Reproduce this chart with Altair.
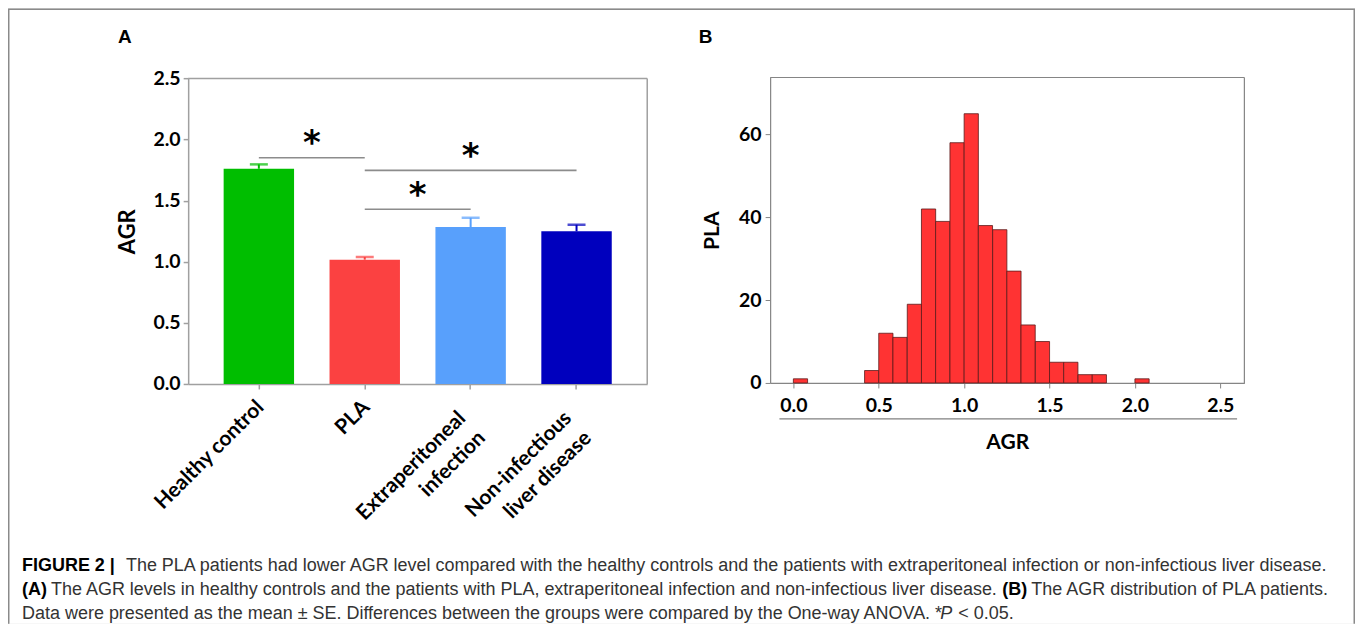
import altair as alt
import pandas as pd

# ---------------- data ----------------
groups = ["Healthy control", "PLA", "Extraperitoneal\ninfection", "Non-infectious\nliver disease"]
agr_mean = [1.761, 1.017, 1.284, 1.249]
agr_upper = [1.797, 1.039, 1.360, 1.303]
bar_colors = ["#00BE00", "#FB4141", "#58A0FC", "#0000BE"]

sig_from = ["Healthy control", "PLA", "PLA"]
sig_to = ["PLA", "Non-infectious\nliver disease", "Extraperitoneal\ninfection"]
sig_level = [1.851, 1.748, 1.430]
star_group = ["Healthy control", "Extraperitoneal\ninfection", "PLA"]
star_level = [2.036, 1.927, 1.613]
star_shift = [0.5, 0.0, 0.5]  # in category steps

bin_start = [0.000, 0.417, 0.500, 0.583, 0.667, 0.750, 0.833, 0.917, 1.000, 1.083,
             1.167, 1.250, 1.333, 1.417, 1.500, 1.583, 1.667, 1.750, 2.000]
bin_count = [1, 3, 12, 11, 19, 42, 39, 58, 65, 38, 37, 27, 14, 10, 5, 5, 2, 2, 1]
bin_width = 0.0833

yA_ticks = [0, 0.5, 1.0, 1.5, 2.0, 2.5]
xB_ticks = [0, 0.5, 1.0, 1.5, 2.0, 2.5]
yB_ticks = [0, 20, 40, 60]

cap1_bold = "FIGURE 2 |"
cap1 = "The PLA patients had lower AGR level compared with the healthy controls and the patients with extraperitoneal infection or non-infectious liver disease."
cap2a_bold = "(A)"
cap2a = "The AGR levels in healthy controls and the patients with PLA, extraperitoneal infection and non-infectious liver disease."
cap2b_bold = "(B)"
cap2b = "The AGR distribution of PLA patients."
cap3a = "Data were presented as the mean \u00b1 SE. Differences between the groups were compared by the One-way ANOVA. *"
cap3b = "P"
cap3c = "< 0.05."

# ---------------- layout ----------------
W, H = 1348, 616
A_X0, A_X1, A_Y0, A_Y1 = 180.3, 639.7, 70.3, 376.0
B_X0, B_X1, B_Y0, B_Y1 = 762.7, 1237.3, 69.3, 375.0
FONT = "Lato"
CAPFONT = "Liberation Sans"
CAPSIZE = 18
gray_a = "#a0a0a0"
gray_b = "#858585"
STEP_A = (A_X1 - A_X0) / (4 - 0.335 + 2 * 0.335)

one = pd.DataFrame({"d": [0]})

# ---------------- panel A ----------------
dfA = pd.DataFrame({"group": groups, "mean": agr_mean, "upper": agr_upper})
x_scale_A = alt.Scale(domain=groups, range=[A_X0, A_X1], paddingInner=0.335, paddingOuter=0.335)
y_scale_A = alt.Scale(domain=[0, 2.5], range=[A_Y1, A_Y0], nice=False)
color_A = alt.Color("group:N", scale=alt.Scale(domain=groups, range=bar_colors), legend=None)

multi_test = "indexof(datum.label, '\\n') >= 0"
axis_x_A = alt.Axis(orient="bottom", offset=A_Y1 - H, title=None, labelAngle=-45,
                    labelAlign="right", labelBaseline="top",
                    labelExpr="split(datum.label, '\\n')",
                    labelFont=FONT, labelFontWeight="bold", labelFontSize=21, labelColor="black",
                    labelPadding={"condition": {"test": multi_test, "value": 18}, "value": 7},
                    labelOffset={"condition": {"test": multi_test, "value": -16}, "value": -6},
                    labelLineHeight=28, labelOverlap=False, labelBound=False,
                    tickSize=5, tickColor=gray_a, tickWidth=1.5, domainColor=gray_a, domainWidth=1.5,
                    grid=False)
axis_y_A = alt.Axis(orient="left", offset=-A_X0, values=yA_ticks, format=".1f", title="AGR",
                    titleFont=FONT, titleFontSize=22, titleFontWeight="bold", titleColor="black",
                    titlePadding=13, labelFont=FONT, labelFontWeight="bold", labelFontSize=19.5,
                    labelColor="black", labelPadding=3, labelFlush=False, tickSize=5,
                    tickColor=gray_a, tickWidth=1.5, domainColor=gray_a, domainWidth=1.5, grid=False)

xA = alt.X("group:N", scale=x_scale_A, axis=axis_x_A, sort=groups, title=None)

bars = alt.Chart(dfA).mark_bar().encode(
    x=xA,
    y=alt.Y("mean:Q", scale=y_scale_A, axis=axis_y_A, title="AGR"),
    color=color_A,
)
errs = alt.Chart(dfA).mark_rule(strokeWidth=2).encode(
    x=xA,
    y=alt.Y("mean:Q", scale=y_scale_A, axis=axis_y_A, title="AGR"),
    y2="upper:Q",
    color=color_A,
)
caps = alt.Chart(dfA).mark_tick(thickness=2.5, size=18).encode(
    x=xA,
    y=alt.Y("upper:Q", scale=y_scale_A, axis=axis_y_A, title="AGR"),
    color=color_A,
)
dfSig = pd.DataFrame({"group": sig_from, "to": sig_to, "mean": sig_level})
sig = alt.Chart(dfSig).mark_rule(color="#8c8c8c", strokeWidth=1.6).encode(
    x=xA,
    x2="to:N",
    y=alt.Y("mean:Q", scale=y_scale_A, axis=axis_y_A, title="AGR"),
)
stars = []
for g, lv, sh in zip(star_group, star_level, star_shift):
    d = pd.DataFrame({"group": [g], "mean": [lv]})
    stars.append(
        alt.Chart(d).mark_text(text="*", font="DejaVu Sans", fontWeight="bold", fontSize=34,
                               color="black", baseline="middle", dx=sh * STEP_A, dy=9).encode(
            x=xA,
            y=alt.Y("mean:Q", scale=y_scale_A, axis=axis_y_A, title="AGR"),
        )
    )
panelA = alt.layer(bars, errs, caps, sig, *stars)

# ---------------- panel B ----------------
dfB = pd.DataFrame({"start": bin_start, "count": bin_count})
x_scale_B = alt.Scale(domain=[-0.136, 2.641], range=[B_X0, B_X1], nice=False, zero=False)
y_scale_B = alt.Scale(domain=[0, 73.75], range=[B_Y1, B_Y0], nice=False)
axis_x_B = alt.Axis(orient="bottom", offset=B_Y1 - H, values=xB_ticks, format=".1f", title="AGR",
                    titleFont=FONT, titleFontSize=21, titleFontWeight="bold", titleColor="black",
                    titlePadding=16, labelFont=FONT, labelFontWeight="bold", labelFontSize=19.5,
                    labelColor="black", labelPadding=9, labelFlush=False, labelOverlap=False,
                    tickSize=5, tickColor=gray_b, domainColor=gray_b, domainWidth=1.2, grid=False)
axis_y_B = alt.Axis(orient="left", offset=-B_X0, values=yB_ticks, title="PLA",
                    titleFont=FONT, titleFontSize=21, titleFontWeight="bold", titleColor="black",
                    titlePadding=16, labelFont=FONT, labelFontWeight="bold", labelFontSize=19.5,
                    labelColor="black", labelPadding=4, labelFlush=False, tickSize=5,
                    tickColor=gray_b, domainColor=gray_b, domainWidth=1.2, grid=False)
hist = alt.Chart(dfB).transform_calculate(end=f"datum.start + {bin_width}").mark_rect(
    fill="#FF3333", stroke="#5a1a1a", strokeWidth=0.8).encode(
    x=alt.X("start:Q", scale=x_scale_B, axis=axis_x_B, title="AGR"),
    x2="end:Q",
    y=alt.Y("count:Q", scale=y_scale_B, axis=axis_y_B, title="PLA"),
    y2=alt.datum(0),
)
panelB = alt.layer(hist)

# ---------------- decorations ----------------
def hrule(x0, x1, y, color, w):
    return alt.Chart(one).mark_rule(color=color, strokeWidth=w).encode(
        x=alt.value(x0), x2=alt.value(x1), y=alt.value(y))

def vrule(x, y0, y1, color, w):
    return alt.Chart(one).mark_rule(color=color, strokeWidth=w).encode(
        x=alt.value(x), y=alt.value(y0), y2=alt.value(y1))

def label(txt, x, y, font, size, weight="normal", align="left", baseline="alphabetic",
          color="black", style="normal"):
    return alt.Chart(one).mark_text(text=txt, font=font, fontSize=size, fontWeight=weight,
                                    fontStyle=style, align=align, baseline=baseline,
                                    color=color).encode(x=alt.value(x), y=alt.value(y))

deco = alt.layer(
    vrule(0.75, 1, H, "#8a8a8a", 1.5),
    hrule(0, W, 1, "#8a8a8a", 1.5),
    vrule(W - 0.75, 1, H, "#8a8a8a", 1.5),
    hrule(A_X0, A_X1, A_Y0, gray_a, 1.5),
    vrule(A_X1, A_Y0, A_Y1, gray_a, 1.5),
    hrule(B_X0, B_X1, B_Y0, gray_b, 1.2),
    vrule(B_X1, B_Y0, B_Y1, gray_b, 1.2),
    hrule(772, 1230, 411, "#808080", 1.2),
    label("A", 117, 29, "Liberation Sans", 19, "bold", "center", "middle"),
    label("B", 698, 29, "Liberation Sans", 19, "bold", "center", "middle"),
    label(cap1_bold, 14, 563, CAPFONT, CAPSIZE, "bold"),
    label(cap1, 118, 563, CAPFONT, CAPSIZE, color="#333333"),
    label(cap2a_bold, 14, 587, CAPFONT, CAPSIZE, "bold"),
    label(cap2a, 43, 587, CAPFONT, CAPSIZE, color="#333333"),
    label(cap2b_bold, 995, 587, CAPFONT, CAPSIZE, "bold"),
    label(cap2b, 1024, 587, CAPFONT, CAPSIZE, color="#333333"),
    label(cap3a, 14, 611, CAPFONT, CAPSIZE, color="#333333"),
    label(cap3b, 933, 611, CAPFONT, CAPSIZE, color="#333333", style="italic"),
    label(cap3c, 951, 611, CAPFONT, CAPSIZE, color="#333333"),
)

chart = alt.layer(panelA, panelB, deco).resolve_scale(
    x="independent", y="independent", color="independent"
).resolve_axis(x="independent", y="independent").properties(
    width=W, height=H, padding=0, autosize=alt.AutoSizeParams(type="none")
).configure_view(stroke=None).configure(background="white")

chart.save("out.html", embed_options={"renderer": "svg", "actions": False})
